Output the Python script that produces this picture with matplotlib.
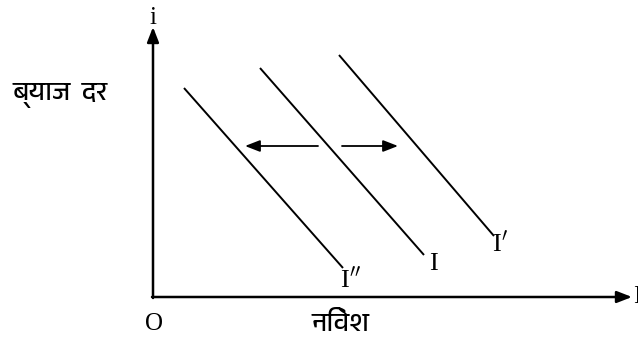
import matplotlib
matplotlib.use("Agg")
import matplotlib.pyplot as plt
from matplotlib import font_manager
from matplotlib.ft2font import FT2Font

# find an installed font that has devanagari glyphs
def font_with(ch):
    found = []
    for f in font_manager.fontManager.ttflist:
        try:
            if ord(ch) in FT2Font(f.fname).get_charmap():
                found.append(f.name)
        except Exception:
            pass
    for name in found:
        if "Devanagari" in name:
            return name
    return found[0] if found else None

hindi = font_with("\u0928") or "DejaVu Sans"
serif = "Liberation Serif"

# schematic coordinates, origin at O
curve_labels = ["I$''$", "I", "I$'$"]
curve_x = [(31, 190), (107, 271), (186, 341)]
curve_y = [(209, 29), (229, 42), (242, 61)]
label_pos = [(197, 18), (280, 33), (347, 53)]

shift_y = 151
left_arrow = (165, 92)
right_arrow = (189, 245)

head = "-|>,head_length=0.9,head_width=0.35"

fig = plt.figure(figsize=(6.38, 3.46), dpi=100)
ax = fig.add_axes([0, 0, 1, 1])
ax.set_xlim(-153, 485)
ax.set_ylim(-49, 297)
ax.axis("off")

# axes with arrows
ax.annotate("", xy=(0, 270), xytext=(0, -1),
            arrowprops=dict(arrowstyle=head, color="black", lw=1.8,
                            shrinkA=0, shrinkB=0))
ax.annotate("", xy=(479, 0), xytext=(-1, 0),
            arrowprops=dict(arrowstyle=head, color="black", lw=1.8,
                            shrinkA=0, shrinkB=0))

for xs, ys, lab, pos in zip(curve_x, curve_y, curve_labels, label_pos):
    ax.plot(xs, ys, color="black", lw=1.4, solid_capstyle="butt")
    ax.text(pos[0], pos[1], lab, fontfamily=serif, fontsize=19,
            ha="center", va="center")

ax.annotate("", xy=(left_arrow[1], shift_y), xytext=(left_arrow[0], shift_y),
            arrowprops=dict(arrowstyle=head, color="black", lw=1.3,
                            shrinkA=0, shrinkB=0))
ax.annotate("", xy=(right_arrow[1], shift_y), xytext=(right_arrow[0], shift_y),
            arrowprops=dict(arrowstyle=head, color="black", lw=1.3,
                            shrinkA=0, shrinkB=0))

ax.text(0, 279, "i", fontfamily=serif, fontsize=18, ha="center", va="center")
ax.text(480, 0, "I", fontfamily=serif, fontsize=18, ha="left", va="center")
ax.text(1, -27, "O", fontfamily=serif, fontsize=18, ha="center", va="center")
ax.text(188, -26, "निवेश", fontfamily=hindi, fontsize=19, ha="center", va="center")
ax.text(-93, 201, "ब्याज  दर", fontfamily=hindi, fontsize=19, ha="center", va="center")

fig.savefig("out.png", dpi=100)
